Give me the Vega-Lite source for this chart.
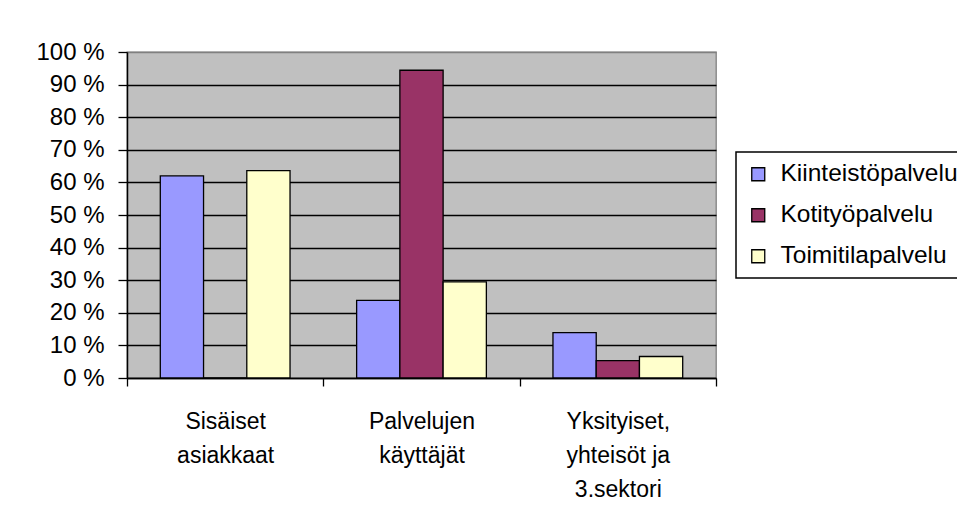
{
  "$schema": "https://vega.github.io/schema/vega-lite/v6.json",
  "width": 589,
  "height": 326,
  "autosize": {"type": "none"},
  "padding": {"left": 127, "top": 52, "right": 241, "bottom": 144},
  "background": "white",
  "config": {
    "font": "Liberation Sans",
    "view": {"stroke": "#808080", "strokeWidth": 1.3, "fill": "#C0C0C0"},
    "legend": {"strokeWidth": 1.5}
  },
  "data": {
    "values": [
      {"group": "Sisäiset asiakkaat", "series": "Kiinteistöpalvelu", "value": 62},
      {"group": "Sisäiset asiakkaat", "series": "Kotityöpalvelu", "value": 0},
      {"group": "Sisäiset asiakkaat", "series": "Toimitilapalvelu", "value": 63.6},
      {"group": "Palvelujen käyttäjät", "series": "Kiinteistöpalvelu", "value": 23.8},
      {"group": "Palvelujen käyttäjät", "series": "Kotityöpalvelu", "value": 94.4},
      {"group": "Palvelujen käyttäjät", "series": "Toimitilapalvelu", "value": 29.5},
      {"group": "Yksityiset, yhteisöt ja 3.sektori", "series": "Kiinteistöpalvelu", "value": 13.9},
      {"group": "Yksityiset, yhteisöt ja 3.sektori", "series": "Kotityöpalvelu", "value": 5.3},
      {"group": "Yksityiset, yhteisöt ja 3.sektori", "series": "Toimitilapalvelu", "value": 6.6}
    ]
  },
  "mark": {"type": "bar", "stroke": "black", "strokeWidth": 1.3},
  "encoding": {
    "x": {
      "field": "group",
      "type": "nominal",
      "sort": ["Sisäiset asiakkaat", "Palvelujen käyttäjät", "Yksityiset, yhteisöt ja 3.sektori"],
      "scale": {"paddingInner": 0, "paddingOuter": 0},
      "axis": {
        "title": null,
        "labelAngle": 0,
        "labelExpr": "datum.value == 'Sisäiset asiakkaat' ? ['Sisäiset', 'asiakkaat'] : datum.value == 'Palvelujen käyttäjät' ? ['Palvelujen', 'käyttäjät'] : datum.value == 'Yksityiset, yhteisöt ja 3.sektori' ? ['Yksityiset,', 'yhteisöt ja', '3.sektori'] : ''",
        "labelFontSize": 23,
        "labelColor": "black",
        "labelLineHeight": 34,
        "labelPadding": 24,
        "labelBaseline": "top",
        "tickBand": "extent",
        "tickSize": 8,
        "tickColor": "black",
        "tickWidth": 1.3,
        "domainColor": "black",
        "domainWidth": 1.5,
        "grid": false
      }
    },
    "xOffset": {
      "field": "series",
      "type": "nominal",
      "sort": ["Kiinteistöpalvelu", "Kotityöpalvelu", "Toimitilapalvelu"],
      "scale": {"paddingInner": 0, "paddingOuter": 0.77}
    },
    "y": {
      "field": "value",
      "type": "quantitative",
      "scale": {"domain": [0, 100], "nice": false},
      "axis": {
        "title": null,
        "values": [0, 10, 20, 30, 40, 50, 60, 70, 80, 90, 100],
        "labelExpr": "datum.value + ' %'",
        "labelFontSize": 24,
        "labelColor": "black",
        "labelPadding": 14,
        "tickSize": 9,
        "tickColor": "black",
        "tickWidth": 1.3,
        "domainColor": "black",
        "domainWidth": 1.5,
        "grid": true,
        "gridColor": {"condition": {"test": "datum.value === 100", "value": "#808080"}, "value": "black"},
        "gridWidth": 1.5,
        "gridOpacity": 1
      }
    },
    "fill": {
      "field": "series",
      "type": "nominal",
      "sort": ["Kiinteistöpalvelu", "Kotityöpalvelu", "Toimitilapalvelu"],
      "scale": {
        "domain": ["Kiinteistöpalvelu", "Kotityöpalvelu", "Toimitilapalvelu"],
        "range": ["#9999FF", "#993366", "#FFFFCC"]
      },
      "legend": {
        "title": null,
        "orient": "none",
        "legendX": 609,
        "legendY": 100,
        "symbolType": "square",
        "symbolSize": 169,
        "symbolStrokeColor": "black",
        "symbolStrokeWidth": 1.3,
        "symbolOpacity": 1,
        "labelFontSize": 24.5,
        "labelColor": "black",
        "labelOffset": 10,
        "labelLimit": 400,
        "rowPadding": 16,
        "padding": 10,
        "strokeColor": "black",
        "fillColor": "white"
      }
    }
  }
}
